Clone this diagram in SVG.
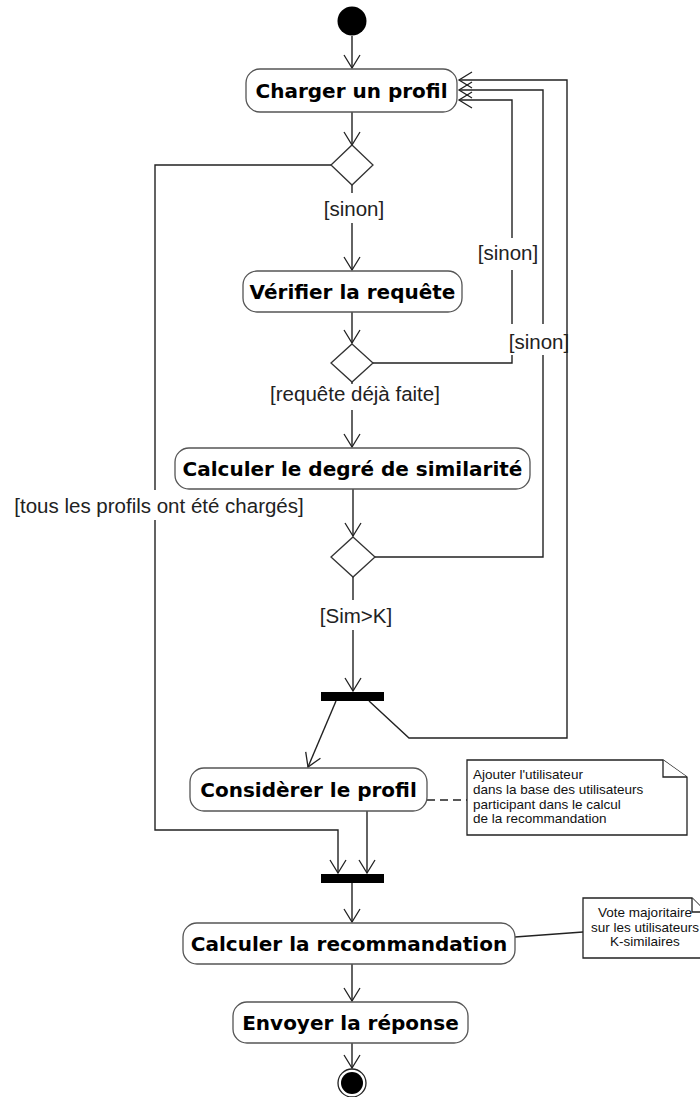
<svg xmlns="http://www.w3.org/2000/svg" width="700" height="1097" viewBox="0 0 700 1097">
<defs>
<style>
.act{fill:#fff;stroke:#555;stroke-width:1.3}
.atxt{font-family:"DejaVu Sans",Verdana,sans-serif;font-weight:bold;font-size:20px;fill:#000;text-anchor:middle}
.dec{fill:#fff;stroke:#333;stroke-width:1.3}
.bar{fill:#000}
.edge{fill:none;stroke:#222;stroke-width:1.4}
.lbl{font-family:"Liberation Sans",Arial,sans-serif;font-size:20.5px;fill:#222;text-anchor:middle}
.bg{fill:#fff}
.note{fill:#fff;stroke:#222;stroke-width:1.3}
.ntxt{font-family:"Liberation Sans",Arial,sans-serif;font-size:13.5px;fill:#111}
</style>
<marker id="arr" markerUnits="userSpaceOnUse" viewBox="0 0 16 18" markerWidth="16" markerHeight="18" refX="14" refY="9" orient="auto">
<path d="M1,1 L14,9 L1,17" fill="none" stroke="#222" stroke-width="1.3"/>
</marker>
</defs>
<rect width="700" height="1097" fill="#fff"/>

<g id="connectors">
<path class="edge" d="M352,36 V68" marker-end="url(#arr)"/>
<path class="edge" d="M352,112 V145" marker-end="url(#arr)"/>
<path class="edge" d="M352,185 V270" marker-end="url(#arr)"/>
<path class="edge" d="M352,312 V343" marker-end="url(#arr)"/>
<path class="edge" d="M352,382 V447" marker-end="url(#arr)"/>
<path class="edge" d="M353,489 V536" marker-end="url(#arr)"/>
<path class="edge" d="M353,577 V691" marker-end="url(#arr)"/>
<path class="edge" d="M373,363 H512 V100 H459" marker-end="url(#arr)"/>
<path class="edge" d="M375,557 H543 V90 H459" marker-end="url(#arr)"/>
<path class="edge" d="M369,701 L409,738 H567 V80 H459" marker-end="url(#arr)"/>
<path class="edge" d="M336,701 L308,767" marker-end="url(#arr)"/>
<path class="edge" d="M367,811 V873" marker-end="url(#arr)"/>
<path class="edge" d="M331,165 H155 V830 H338 V873" marker-end="url(#arr)"/>
<path class="edge" d="M352,883 V922" marker-end="url(#arr)"/>
<path class="edge" d="M352,964 V1001" marker-end="url(#arr)"/>
<path class="edge" d="M352,1043 V1068" marker-end="url(#arr)"/>
<path class="edge" d="M427,800 H467" stroke-dasharray="8,5"/>
<path class="edge" d="M515,937 L583,932" stroke="#444"/>

<rect class="bg" x="324" y="193" width="60" height="30"/>
<text class="lbl" x="354" y="216">[sinon]</text>
<rect class="bg" x="477" y="238" width="62" height="32"/>
<text class="lbl" x="508" y="259.5">[sinon]</text>
<rect class="bg" x="511" y="324" width="53" height="31"/>
<text class="lbl" x="539" y="349">[sinon]</text>
<rect class="bg" x="268" y="384" width="176" height="26"/>
<text class="lbl" x="355" y="401">[requête déjà faite]</text>
<rect class="bg" x="11" y="490" width="297" height="30"/>
<text class="lbl" x="159" y="512.5">[tous les profils ont été chargés]</text>
<rect class="bg" x="318" y="600" width="76" height="30"/>
<text class="lbl" x="356" y="623">[Sim&gt;K]</text>
</g>

<g id="start"><circle cx="352" cy="21" r="14.5" fill="#000"/></g>

<g id="charger">
<rect class="act" x="246" y="69" width="211" height="43" rx="14"/>
<text class="atxt" x="351.5" y="98">Charger un profil</text>
</g>

<g id="decision1"><path class="dec" d="M352,145 L373,165 L352,185 L331,165 Z"/></g>

<g id="verifier">
<rect class="act" x="243" y="271" width="219" height="41" rx="14"/>
<text class="atxt" x="352.5" y="299">Vérifier la requête</text>
</g>

<g id="decision2"><path class="dec" d="M352,344 L373,363 L352,382 L331,363 Z"/></g>

<g id="calcul-degre">
<rect class="act" x="175" y="448" width="355" height="41" rx="14"/>
<text class="atxt" x="352.5" y="476">Calculer le degré de similarité</text>
</g>

<g id="decision3"><path class="dec" d="M353,537 L375,557 L353,577 L331,557 Z"/></g>

<g id="fork"><rect class="bar" x="321" y="692" width="63" height="9"/></g>

<g id="considerer">
<rect class="act" x="190" y="768" width="237" height="43" rx="14"/>
<text class="atxt" x="308.5" y="797">Considèrer le profil</text>
</g>

<g id="note1">
<path class="note" d="M467,760 H663 L687,777 V835 H467 Z"/>
<path class="note" fill="none" d="M663,760 V777 H687"/>
<text class="ntxt" x="473" y="779">Ajouter l'utilisateur</text>
<text class="ntxt" x="473" y="794">dans la base des utilisateurs</text>
<text class="ntxt" x="473" y="808.5">participant dans le calcul</text>
<text class="ntxt" x="473" y="823">de la recommandation</text>
</g>

<g id="join"><rect class="bar" x="321" y="874" width="63" height="9"/></g>

<g id="calcul-recommandation">
<rect class="act" x="183" y="923" width="332" height="41" rx="14"/>
<text class="atxt" x="349" y="951">Calculer la recommandation</text>
</g>

<g id="note2">
<path class="note" d="M583,898 H692 L706,912 V958 H583 Z"/>
<path class="note" fill="none" d="M692,898 V912 H706"/>
<text class="ntxt" x="645" y="917" text-anchor="middle">Vote majoritaire</text>
<text class="ntxt" x="645" y="932" text-anchor="middle">sur les utilisateurs</text>
<text class="ntxt" x="645" y="946" text-anchor="middle">K-similaires</text>
</g>

<g id="envoyer">
<rect class="act" x="233" y="1002" width="235" height="41" rx="14"/>
<text class="atxt" x="350.5" y="1030">Envoyer la réponse</text>
</g>

<g id="end">
<circle cx="352" cy="1083" r="14" fill="#fff" stroke="#222" stroke-width="1.3"/>
<circle cx="352" cy="1083" r="11" fill="#000"/>
</g>
</svg>
